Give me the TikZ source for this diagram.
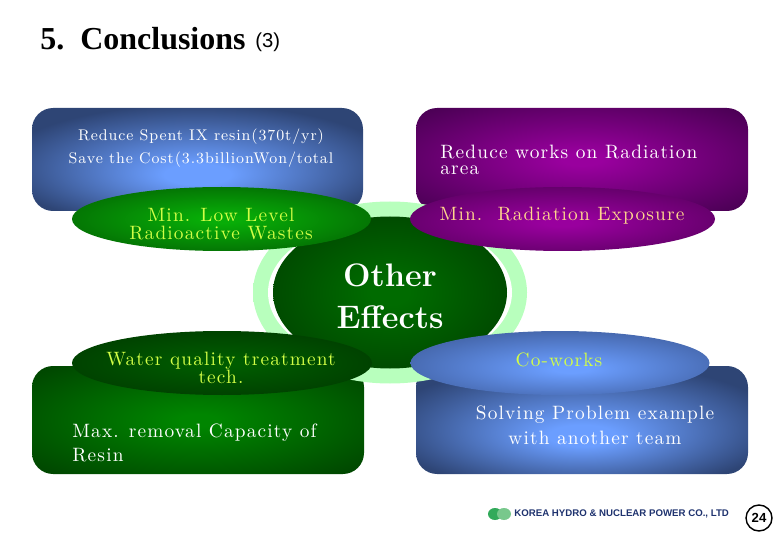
\documentclass[tikz,border=0pt]{standalone}
\usepackage{fontspec}
\newfontfamily\titlefont{Liberation Serif}
\newfontfamily\logofont{Liberation Sans}
\newfontfamily\widefont[LetterSpace=6]{Latin Modern Roman}
\usetikzlibrary{positioning,shapes.geometric}
\pgfdeclareradialshading{boxblue}{\pgfpoint{0bp}{-8bp}}{rgb(0bp)=(0.42,0.62,1);rgb(5bp)=(0.42,0.62,1);rgb(30bp)=(0.18,0.27,0.46);rgb(50bp)=(0.18,0.27,0.46)}
\pgfdeclareradialshading{boxpurple}{\pgfpoint{0bp}{0bp}}{rgb(0bp)=(0.6,0,0.62);rgb(3bp)=(0.6,0,0.62);rgb(36bp)=(0.27,0,0.31);rgb(50bp)=(0.27,0,0.31)}
\pgfdeclareradialshading{boxgreen}{\pgfpoint{0bp}{0bp}}{rgb(0bp)=(0,0.52,0);rgb(3bp)=(0,0.52,0);rgb(38bp)=(0,0.24,0);rgb(50bp)=(0,0.24,0)}
\pgfdeclareradialshading{ovalgreen}{\pgfpoint{0bp}{0bp}}{rgb(0bp)=(0.03,0.68,0.03);rgb(3bp)=(0.03,0.68,0.03);rgb(50bp)=(0,0.22,0)}
\pgfdeclareradialshading{ovaldark}{\pgfpoint{0bp}{0bp}}{rgb(0bp)=(0,0.36,0);rgb(3bp)=(0,0.36,0);rgb(50bp)=(0,0.15,0)}
\pgfdeclareradialshading{ovalpurple}{\pgfpoint{0bp}{-3bp}}{rgb(0bp)=(0.6,0,0.62);rgb(3bp)=(0.6,0,0.62);rgb(50bp)=(0.2,0,0.23)}
\pgfdeclareradialshading{ovalblue}{\pgfpoint{2bp}{-5bp}}{rgb(0bp)=(0.42,0.62,1);rgb(3bp)=(0.42,0.62,1);rgb(40bp)=(0.2,0.3,0.52);rgb(50bp)=(0.18,0.27,0.46)}
\pgfdeclareradialshading{hubgreen}{\pgfpoint{0bp}{0bp}}{rgb(0bp)=(0,0.42,0);rgb(4bp)=(0,0.42,0);rgb(50bp)=(0,0.15,0)}
\pgfdeclareradialshading{ringgreen}{\pgfpoint{0bp}{0bp}}{rgb(0bp)=(0.72,1,0.74);rgb(40bp)=(0.72,1,0.74);rgb(50bp)=(0.97,1,0.97)}
\tikzset{
  bodytext/.style={font=\widefont\fontsize{8.8}{10}\selectfont,align=center,text=white,inner sep=0pt},
  ovaltext/.style={font=\widefont\fontsize{11}{10}\selectfont,align=center,inner sep=0pt},
  lime/.style={text={rgb,255:red,210;green,255;blue,70}},
  sand/.style={text={rgb,255:red,255;green,215;blue,140}},
}
\begin{document}
\begin{tikzpicture}[x=0.02cm,y=-0.02cm]
  \useasboundingbox (0,0) rectangle (780,540);
  \node[anchor=west,inner sep=0pt,font=\titlefont\bfseries\fontsize{18.2}{20}\selectfont] (title) at (40,39) {5.\ \ Conclusions};
  \node[anchor=west,inner sep=0pt,font=\logofont\fontsize{11.5}{12}\selectfont] (part) at (255,42) {(3)};
  % four panels
  \path[shading=boxblue,rounded corners=12pt] (32,108) rectangle (363,211);
  \path[shading=boxpurple,rounded corners=12pt] (416,108) rectangle (748,211);
  \path[shading=boxgreen,rounded corners=12pt] (32,366) rectangle (364,474);
  \path[shading=boxblue,rounded corners=12pt] (416,366) rectangle (748,474);
  % centre
  \path[shading=ringgreen] (390,292.5) ellipse (137 and 91);
  \path[fill=white] (390,292.5) ellipse (122 and 74);
  \path[shading=hubgreen] (390,292.5) ellipse (117 and 76);
  \path[shading=ovalgreen] (221.5,219) ellipse (149.5 and 32);
  \path[shading=ovalpurple] (562.5,219) ellipse (152.5 and 32);
  \path[shading=ovaldark] (222,363) ellipse (150 and 32);
  \path[shading=ovalblue] (560,363) ellipse (149.5 and 32);
  % texts
  \node[bodytext] (spent) at (201,148) {Reduce Spent IX resin(370t/yr)\\[3.5pt]Save the Cost(3.3billionWon/total};
  \node[bodytext,anchor=west,align=left,font=\widefont\fontsize{11}{9.5}\selectfont] (works) at (440,160) {Reduce works on Radiation\\area};
  \node[ovaltext,lime] (wastes) at (221,224) {Min. Low Level\\Radioactive Wastes};
  \node[ovaltext,sand] (exposure) at (562,216) {Min.\ \ Radiation Exposure};
  \node[ovaltext,lime] (quality) at (221,368) {Water quality treatment\\tech.};
  \node[ovaltext,lime] (coworks) at (559,360) {Co-works};
  \node[bodytext,anchor=west,align=left,font=\widefont\fontsize{11}{14}\selectfont] (resin) at (72,443) {Max. removal Capacity of\\Resin};
  \node[bodytext,font=\widefont\fontsize{11}{14}\selectfont] (solving) at (595,425) {Solving Problem example\\with another team};
  \node[font=\bfseries\fontsize{18.5}{24}\selectfont,align=center,text=white] (hub) at (390,296) {Other\\Effects};
  % logo and page number
  \path[fill={rgb,255:red,50;green,170;blue,90}] (495,514) ellipse (7 and 6);
  \path[fill={rgb,255:red,120;green,200;blue,140}] (504,514) ellipse (7 and 6);
  \node[anchor=west,inner sep=0pt,font=\logofont\bfseries\fontsize{5.5}{7}\selectfont,text={rgb,255:red,30;green,50;blue,110}] (logo) at (514,514) {KOREA HYDRO \& NUCLEAR POWER CO., LTD};
  \node[circle,draw,line width=0.8pt,minimum size=0.52cm,inner sep=0pt,font=\logofont\bfseries\fontsize{7.5}{9}\selectfont] (page) at (759,518) {24};
\end{tikzpicture}
\end{document}
